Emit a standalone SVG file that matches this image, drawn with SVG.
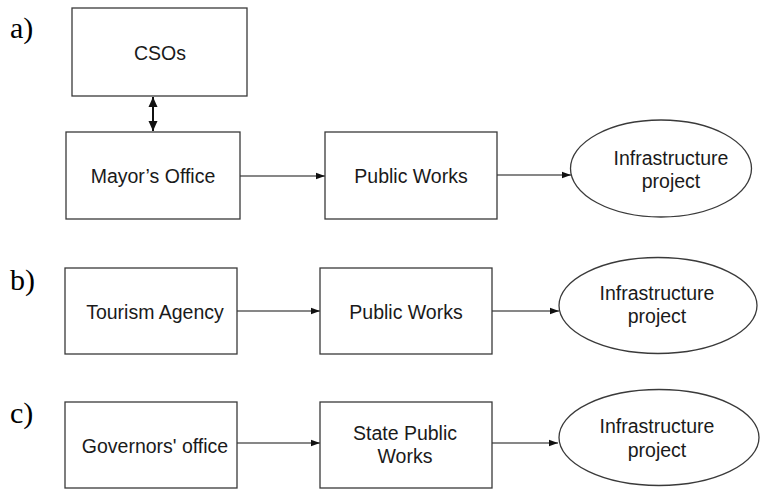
<svg xmlns="http://www.w3.org/2000/svg" width="762" height="489" viewBox="0 0 762 489">
<defs>
<style>
.box{fill:#fff;stroke:#3a3a3a;stroke-width:1.3}
.t{font-family:"Liberation Sans",Arial,sans-serif;font-size:19.5px;fill:#1a1a1a;text-anchor:middle}
.lab{font-family:"Liberation Serif","Times New Roman",serif;font-size:30px;fill:#000}
.c{stroke:#111;stroke-width:1.1;fill:none}
.c2{stroke:#111;stroke-width:2;fill:none}
</style>
<marker id="ah" markerUnits="userSpaceOnUse" markerWidth="9" markerHeight="8" viewBox="0 0 9 8" refX="9" refY="4" orient="auto">
<path d="M0,0.8 L9,4 L0,7.2 Z" fill="#111"/>
</marker>
<marker id="ah2" markerUnits="userSpaceOnUse" markerWidth="10" markerHeight="10" viewBox="0 0 10 10" refX="10" refY="5" orient="auto-start-reverse">
<path d="M0,0.5 L10,5 L0,9.5 Z" fill="#111"/>
</marker>
</defs>
<rect width="762" height="489" fill="#fff"/>
<text class="lab" x="10" y="38">a)</text>
<text class="lab" x="10" y="290">b)</text>
<text class="lab" x="10" y="423">c)</text>
<g id="connectors">
<line class="c2" x1="153" y1="97" x2="153" y2="131" marker-start="url(#ah2)" marker-end="url(#ah2)"/>
<line class="c" x1="240" y1="176" x2="325" y2="176" marker-end="url(#ah)"/>
<line class="c" x1="497" y1="175" x2="571" y2="175" marker-end="url(#ah)"/>
<line class="c" x1="237" y1="311" x2="320" y2="311" marker-end="url(#ah)"/>
<line class="c" x1="492" y1="311" x2="559" y2="311" marker-end="url(#ah)"/>
<line class="c" x1="237" y1="443" x2="320" y2="443" marker-end="url(#ah)"/>
<line class="c" x1="492" y1="443" x2="558" y2="443" marker-end="url(#ah)"/>
</g>
<g id="csos"><rect class="box" x="72" y="8" width="175" height="88"/><text class="t" x="160" y="60">CSOs</text></g>
<g id="mayor"><rect class="box" x="66" y="132" width="174" height="87"/><text class="t" x="153" y="183">Mayor’s Office</text></g>
<g id="pw-a"><rect class="box" x="325" y="132" width="172" height="87"/><text class="t" x="411" y="183">Public Works</text></g>
<g id="infra-a"><ellipse class="box" cx="661" cy="168.5" rx="90.5" ry="48.5"/><text class="t" x="671" y="165">Infrastructure</text><text class="t" x="671" y="188">project</text></g>
<g id="tourism"><rect class="box" x="65" y="268" width="172" height="86"/><text class="t" x="155" y="319">Tourism Agency</text></g>
<g id="pw-b"><rect class="box" x="320" y="268" width="172" height="86"/><text class="t" x="406" y="319">Public Works</text></g>
<g id="infra-b"><ellipse class="box" cx="658" cy="305.5" rx="99" ry="48"/><text class="t" x="657" y="300">Infrastructure</text><text class="t" x="657" y="323">project</text></g>
<g id="governors"><rect class="box" x="65" y="402" width="172" height="86"/><text class="t" x="155" y="453">Governors' office</text></g>
<g id="pw-c"><rect class="box" x="320" y="402" width="172" height="86"/><text class="t" x="405" y="440">State Public</text><text class="t" x="405" y="463">Works</text></g>
<g id="infra-c"><ellipse class="box" cx="659" cy="437.5" rx="100" ry="48"/><text class="t" x="657" y="433">Infrastructure</text><text class="t" x="657" y="457">project</text></g>
</svg>
